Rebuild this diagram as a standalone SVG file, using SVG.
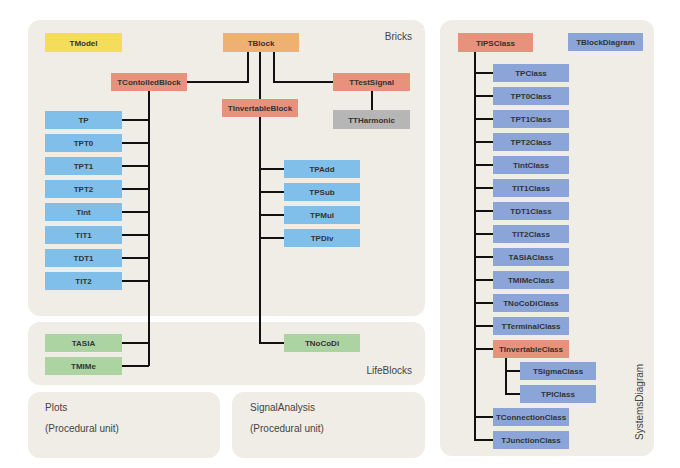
<svg xmlns="http://www.w3.org/2000/svg" width="680" height="468" viewBox="0 0 680 468">
<style>
.p{fill:#efede6}
.b text,text.t{font-family:"Liberation Sans",Arial,sans-serif;font-weight:bold;font-size:8px;fill:#333;text-anchor:middle}
.l{font-family:"Liberation Sans",Arial,sans-serif;font-size:10px;fill:#444}
.c path{fill:none;stroke:#111;stroke-width:2}
.bl{fill:#80bfea}.pu{fill:#8ba5d8}.or{fill:#e6927c}.tb{fill:#eeb172}.ye{fill:#f5dd5c}.gr{fill:#b6b6b6}.gn{fill:#abd4a2}
</style>
<rect width="680" height="468" fill="#fff"/>
<rect class="p" x="28" y="20" width="397" height="296" rx="12"/>
<rect class="p" x="28" y="322" width="397" height="63" rx="12"/>
<rect class="p" x="28" y="392" width="192" height="66" rx="12"/>
<rect class="p" x="232" y="392" width="193" height="66" rx="12"/>
<rect class="p" x="440" y="20" width="214" height="436" rx="12"/>
<text class="l" x="412" y="40" text-anchor="end">Bricks</text>
<text class="l" x="412" y="374" text-anchor="end">LifeBlocks</text>
<text class="l" x="45" y="411">Plots</text>
<text class="l" x="45" y="432">(Procedural unit)</text>
<text class="l" x="250" y="411">SignalAnalysis</text>
<text class="l" x="250" y="432">(Procedural unit)</text>
<text class="l" transform="translate(643,440) rotate(-90)">SystemsDiagram</text>
<g class="c">
<path d="M248 52V82H187M260 52V99M274 52V82H333M372 91V110"/>
<path d="M149 91V366M122 120H149M122 143H149M122 166H149M122 189H149M122 212H149M122 235H149M122 258H149M122 281H149M122 343H149M122 366H149"/>
<path d="M260 117V343H284M260 169H284M260 192H284M260 215H284M260 238H284"/>
<path d="M475 52V440H493M475 73H493M475 96H493M475 119H493M475 142H493M475 165H493M475 188H493M475 211H493M475 234H493M475 257H493M475 280H493M475 303H493M475 326H493M475 349H493M475 417H493"/>
<path d="M506 358V394H520M506 371H520"/>
</g>
<g class="b">
<g id="TModel"><rect class="ye" x="45" y="33" width="77" height="19"/><text x="83.5" y="45.5">TModel</text></g>
<g id="TBlock"><rect class="tb" x="223" y="33" width="76" height="19"/><text x="261" y="45.5">TBlock</text></g>
<g id="TContolledBlock"><rect class="or" x="111" y="73" width="76" height="18"/><text x="149" y="85">TContolledBlock</text></g>
<g id="TTestSignal"><rect class="or" x="333" y="73" width="77" height="18"/><text x="371.5" y="85">TTestSignal</text></g>
<g id="TInvertableBlock"><rect class="or" x="222" y="99" width="76" height="18"/><text x="260" y="111">TInvertableBlock</text></g>
<g id="TTHarmonic"><rect class="gr" x="333" y="110" width="77" height="19"/><text x="371.5" y="122.5">TTHarmonic</text></g>
<g id="TP"><rect class="bl" x="45" y="111" width="77" height="18"/><text x="83.5" y="123">TP</text></g>
<g id="TPT0"><rect class="bl" x="45" y="134" width="77" height="18"/><text x="83.5" y="146">TPT0</text></g>
<g id="TPT1"><rect class="bl" x="45" y="157" width="77" height="18"/><text x="83.5" y="169">TPT1</text></g>
<g id="TPT2"><rect class="bl" x="45" y="180" width="77" height="18"/><text x="83.5" y="192">TPT2</text></g>
<g id="Tint"><rect class="bl" x="45" y="203" width="77" height="18"/><text x="83.5" y="215">Tint</text></g>
<g id="TIT1"><rect class="bl" x="45" y="226" width="77" height="18"/><text x="83.5" y="238">TIT1</text></g>
<g id="TDT1"><rect class="bl" x="45" y="249" width="77" height="18"/><text x="83.5" y="261">TDT1</text></g>
<g id="TIT2"><rect class="bl" x="45" y="272" width="77" height="18"/><text x="83.5" y="284">TIT2</text></g>
<g id="TASIA"><rect class="gn" x="45" y="334" width="77" height="18"/><text x="83.5" y="346">TASIA</text></g>
<g id="TMIMe"><rect class="gn" x="45" y="357" width="77" height="18"/><text x="83.5" y="369">TMIMe</text></g>
<g id="TPAdd"><rect class="bl" x="284" y="160" width="76" height="18"/><text x="322" y="172">TPAdd</text></g>
<g id="TPSub"><rect class="bl" x="284" y="183" width="76" height="18"/><text x="322" y="195">TPSub</text></g>
<g id="TPMul"><rect class="bl" x="284" y="206" width="76" height="18"/><text x="322" y="218">TPMul</text></g>
<g id="TPDiv"><rect class="bl" x="284" y="229" width="76" height="18"/><text x="322" y="241">TPDiv</text></g>
<g id="TNoCoDi"><rect class="gn" x="284" y="334" width="76" height="18"/><text x="322" y="346">TNoCoDi</text></g>
<g id="TIPSClass"><rect class="or" x="458" y="33" width="75" height="19"/><text x="495.5" y="45.5">TIPSClass</text></g>
<g id="TBlockDiagram"><rect class="pu" x="568" y="33" width="75" height="18"/><text x="605.5" y="45">TBlockDiagram</text></g>
<g id="TPClass"><rect class="pu" x="493" y="64" width="76" height="18"/><text x="531" y="76">TPClass</text></g>
<g id="TPT0Class"><rect class="pu" x="493" y="87" width="76" height="18"/><text x="531" y="99">TPT0Class</text></g>
<g id="TPT1Class"><rect class="pu" x="493" y="110" width="76" height="18"/><text x="531" y="122">TPT1Class</text></g>
<g id="TPT2Class"><rect class="pu" x="493" y="133" width="76" height="18"/><text x="531" y="145">TPT2Class</text></g>
<g id="TintClass"><rect class="pu" x="493" y="156" width="76" height="18"/><text x="531" y="168">TintClass</text></g>
<g id="TIT1Class"><rect class="pu" x="493" y="179" width="76" height="18"/><text x="531" y="191">TIT1Class</text></g>
<g id="TDT1Class"><rect class="pu" x="493" y="202" width="76" height="18"/><text x="531" y="214">TDT1Class</text></g>
<g id="TIT2Class"><rect class="pu" x="493" y="225" width="76" height="18"/><text x="531" y="237">TIT2Class</text></g>
<g id="TASIAClass"><rect class="pu" x="493" y="248" width="76" height="18"/><text x="531" y="260">TASIAClass</text></g>
<g id="TMIMeClass"><rect class="pu" x="493" y="271" width="76" height="18"/><text x="531" y="283">TMIMeClass</text></g>
<g id="TNoCoDiClass"><rect class="pu" x="493" y="294" width="76" height="18"/><text x="531" y="306">TNoCoDiClass</text></g>
<g id="TTerminalClass"><rect class="pu" x="493" y="317" width="76" height="18"/><text x="531" y="329">TTerminalClass</text></g>
<g id="TInvertableClass"><rect class="or" x="493" y="340" width="76" height="18"/><text x="531" y="352">TInvertableClass</text></g>
<g id="TSigmaClass"><rect class="pu" x="520" y="362" width="76" height="18"/><text x="558" y="374">TSigmaClass</text></g>
<g id="TPIClass"><rect class="pu" x="520" y="385" width="76" height="18"/><text x="558" y="397">TPIClass</text></g>
<g id="TConnectionClass"><rect class="pu" x="493" y="408" width="76" height="18"/><text x="531" y="420">TConnectionClass</text></g>
<g id="TJunctionClass"><rect class="pu" x="493" y="431" width="76" height="18"/><text x="531" y="443">TJunctionClass</text></g>
</g>
</svg>
